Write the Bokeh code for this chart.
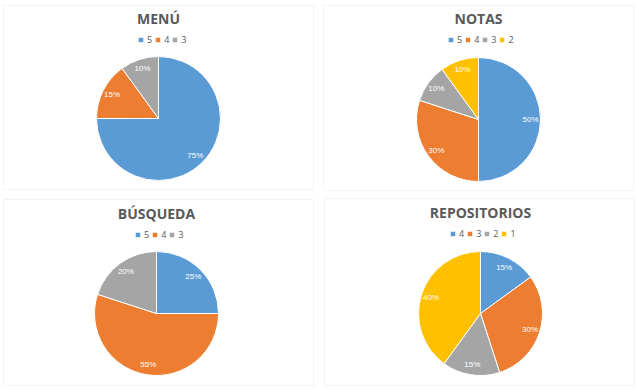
import math
from bokeh.plotting import figure
from bokeh.models import ColumnDataSource, Legend, LegendItem, BoxAnnotation, Range1d
from bokeh.core.properties import value
from bokeh.embed import file_html
from bokeh.resources import INLINE

# ---- data ----
menu_cats = ["5", "4", "3"]
menu_vals = [75, 15, 10]
notas_cats = ["5", "4", "3", "2"]
notas_vals = [50, 30, 10, 10]
busq_cats = ["5", "4", "3"]
busq_vals = [25, 55, 20]
repo_cats = ["4", "3", "2", "1"]
repo_vals = [15, 30, 15, 40]
titles = ["MENÚ", "NOTAS", "BÚSQUEDA", "REPOSITORIOS"]
palette = ["#5B9BD5", "#ED7D31", "#A5A5A5", "#FFC000"]

W, H = 636, 390
R = 62

p = figure(width=W, height=H, x_range=Range1d(0, W), y_range=Range1d(0, H),
           output_backend="svg", toolbar_location=None,
           x_axis_location=None, y_axis_location=None, min_border=0)
p.grid.visible = False
p.outline_line_color = None
p.background_fill_color = "white"

# layout (screen px, y from top)
panels = [
    dict(title=titles[0], cats=menu_cats, vals=menu_vals, box=(3, 313, 5, 189), cx=158, cy=118, ty=18, lx=137, ly=41),
    dict(title=titles[1], cats=notas_cats, vals=notas_vals, box=(323, 633, 5, 190), cx=478, cy=119, ty=18, lx=447, ly=41),
    dict(title=titles[2], cats=busq_cats, vals=busq_vals, box=(3, 313, 199, 385), cx=156, cy=313, ty=213, lx=134, ly=236),
    dict(title=titles[3], cats=repo_cats, vals=repo_vals, box=(324, 634, 198, 385), cx=480, cy=313, ty=212, lx=449, ly=235),
]

for pn in panels:
    l, r, t, b = pn["box"]
    p.add_layout(BoxAnnotation(left=l, right=r, top=H - t, bottom=H - b,
                               fill_alpha=0, line_color="#D9D9D9", line_width=1))
    vals = pn["vals"]
    tot = sum(vals)
    cum = 0.0
    starts, ends, lxs, lys, labels = [], [], [], [], []
    cx, cy = pn["cx"], H - pn["cy"]
    for v in vals:
        a0 = math.pi / 2 - 2 * math.pi * (cum + v) / tot
        a1 = math.pi / 2 - 2 * math.pi * cum / tot
        starts.append(a0)
        ends.append(a1)
        mid = (a0 + a1) / 2
        lxs.append(cx + 0.84 * R * math.cos(mid))
        lys.append(cy + 0.84 * R * math.sin(mid))
        labels.append(f"{round(100 * v / tot)}%")
        cum += v
    n = len(vals)
    src = ColumnDataSource(dict(x=[cx] * n, y=[cy] * n, start=starts, end=ends,
                                color=palette[:n], cat=pn["cats"]))
    wr = p.wedge(x="x", y="y", radius=R, radius_units="screen", start_angle="start",
                 end_angle="end", fill_color="color", line_color="white",
                 line_width=1, source=src)
    p.text(x=lxs, y=lys, text=labels, text_align="center", text_baseline="middle",
           text_font=value("Liberation Sans"), text_font_size="8px", text_color="white")
    p.text(x=[pn["cx"]], y=[H - pn["ty"]], text=[pn["title"]], text_align="center",
           text_baseline="middle", text_font=value("Open Sans"), text_font_style="bold",
           text_font_size="14px", text_color="#595959")
    items = [LegendItem(label=c, renderers=[wr], index=i) for i, c in enumerate(pn["cats"])]
    leg = Legend(items=items, orientation="horizontal", location=(pn["lx"], H - pn["ly"] - 5),
                 glyph_width=7, glyph_height=7, label_standoff=3, spacing=2,
                 label_width=5, label_height=9, padding=0, margin=0,
                 label_text_font="Open Sans", label_text_font_size="9px",
                 label_text_color="#595959", background_fill_alpha=0,
                 border_line_color=None, label_text_baseline="middle")
    p.add_layout(leg)

open("out.html", "w").write(file_html(p, INLINE))
